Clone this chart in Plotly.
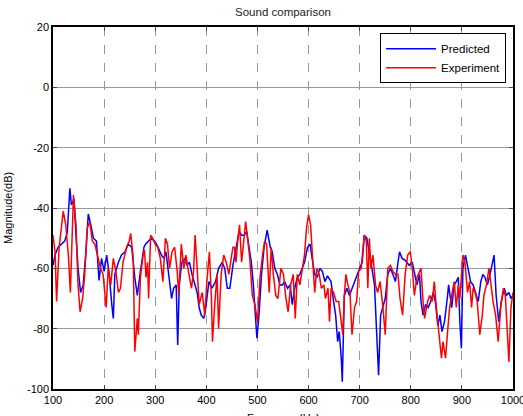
import plotly.graph_objects as go

freq_pred = [100, 104, 110, 117, 123, 128, 133, 136, 141, 145, 149, 154, 159, 164, 169, 174, 179, 185, 190, 195,
             200, 205, 210, 215, 218, 221, 228, 234, 241, 247, 254, 260, 265, 271, 278, 281, 286, 292, 299, 305,
             312, 317, 321, 326, 332, 336, 341, 344, 347, 352, 358, 362, 367, 372, 377, 382, 386, 390, 395, 399,
             405, 411, 418, 424, 431, 436, 441, 446, 452, 457, 464, 469, 474, 479, 483, 488, 492, 497, 499, 503,
             508, 513, 519, 525, 529, 534, 539, 544, 549, 553, 559, 564, 568, 573, 578, 583, 588, 592, 598, 603,
             607, 612, 617, 622, 627, 632, 637, 644, 649, 653, 657, 660, 664, 666, 670, 675, 680, 685, 690, 694,
             700, 705, 709, 714, 719, 724, 729, 732, 735, 737, 741, 745, 750, 755, 760, 765, 770, 775, 778, 783,
             788, 792, 797, 803, 807, 812, 817, 820, 824, 829, 834, 839, 844, 848, 853, 857, 861, 866, 872, 874,
             880, 885, 889, 893, 896, 899, 902, 907, 912, 917, 922, 926, 932, 937, 941, 945, 950, 955, 959, 963,
             967, 972, 977, 983, 987, 992, 996, 1000]
mag_pred = [-59, -55.6, -53, -52, -51, -48, -33.5, -39, -37, -49, -60, -68, -65.5, -55.6, -42, -45.6, -50, -51, -64, -56.7,
            -61, -55.6, -62, -72, -76.6, -62, -58, -55.6, -54.5, -52, -53, -63, -69, -61, -53, -52, -51, -50, -51, -52.8,
            -55.6, -56.7, -54.5, -61, -70, -66.6, -65.5, -85.4, -65.5, -58, -56.7, -59, -58, -62, -65.5, -68, -73, -75.5, -76.6, -73,
            -64.4, -66.6, -64.4, -60, -58, -60, -66.6, -66.6, -59, -54.5, -47.8, -49, -49, -47.8, -53, -58, -65.5, -76.6, -83.2, -75.5,
            -62, -53, -47.3, -53, -54.5, -60, -62, -65.5, -65.5, -64.4, -66.6, -65.5, -72, -66.6, -63, -62, -60, -58, -53, -52,
            -56.7, -62, -63, -60, -61, -64.4, -62.5, -64.4, -71, -75.5, -84.3, -81, -89.8, -97.6, -69, -66.6, -69, -66.6, -64.4, -63,
            -60, -58, -49, -50, -54.5, -60, -65.5, -75.5, -89.8, -95.4, -75.5, -73, -70, -62, -60, -62, -64.4, -58, -54.5, -56.7,
            -57.2, -58, -59, -58, -62, -65.5, -62, -71, -75.5, -72, -73, -71, -68, -71, -79, -75.5, -81, -77.7, -69, -65.5,
            -73, -65.5, -64.4, -63, -77.7, -86.5, -60, -55.6, -60, -64.4, -65.5, -68, -71, -64.4, -62, -63, -65.5, -62, -59, -55.6,
            -69, -77.7, -71, -66.6, -69, -68, -70, -69]

freq_exp = [100, 104, 107, 112, 117, 120, 125, 130, 134, 140, 145, 149, 153, 158, 162, 167, 172, 177, 182, 189,
            193, 198, 204, 208, 213, 218, 223, 228, 232, 237, 244, 249, 252, 257, 260, 265, 267, 271, 277, 279,
            282, 285, 287, 291, 295, 300, 305, 310, 315, 320, 324, 328, 333, 338, 343, 346, 351, 356, 360, 366,
            371, 375, 378, 382, 386, 392, 397, 401, 406, 410, 412, 416, 421, 424, 429, 434, 439, 444, 448, 452,
            455, 458, 462, 465, 469, 473, 477, 482, 485, 490, 495, 500, 505, 510, 514, 518, 523, 527, 531, 536,
            540, 546, 551, 555, 560, 565, 570, 574, 578, 583, 588, 592, 596, 600, 604, 608, 612, 616, 621, 625,
            630, 633, 638, 641, 644, 649, 654, 659, 664, 667, 670, 673, 677, 681, 685, 690, 694, 698, 703, 706,
            709, 713, 716, 719, 722, 726, 731, 735, 740, 745, 750, 755, 760, 765, 770, 775, 779, 784, 789, 794,
            799, 803, 807, 812, 817, 820, 824, 827, 833, 837, 842, 846, 850, 855, 860, 863, 868, 872, 876, 881,
            885, 889, 893, 896, 899, 902, 906, 911, 915, 919, 922, 926, 930, 935, 940, 943, 948, 953, 957, 961,
            966, 971, 976, 981, 985, 989, 992, 996, 1000]
mag_exp = [-49, -54.5, -71, -53, -45.6, -41, -45.6, -55.6, -68, -35.7, -45.6, -65.5, -74.4, -70, -62, -46.7, -44.5, -51, -52, -56.7,
           -60, -62, -73, -60, -65.5, -56.7, -61, -68, -66.6, -58, -53, -51, -48.4, -56.7, -87.6, -76.6, -82, -63, -54.5, -54,
           -63, -58, -70, -49, -50, -52, -53, -56.7, -64.4, -50, -52, -60, -54.5, -53, -61, -69, -52, -60, -55.6, -62,
           -66.6, -61, -49, -60, -72, -68, -75.5, -64.4, -54.5, -70, -84.3, -73, -62, -80, -62, -55.6, -58, -62, -58, -53,
           -53, -58, -50, -45.6, -58, -51, -44.5, -52, -56.7, -69, -72, -77.7, -63, -55.6, -51, -52, -68, -53, -62, -69,
           -70, -60, -62, -69, -74.4, -65.5, -62, -76.6, -62, -65.5, -60, -55.6, -46.7, -42.3, -45.6, -55.6, -68, -60, -62, -66.6,
           -65.5, -70, -66.6, -77.7, -66.6, -68, -71, -71, -77.7, -82, -69, -62, -65.5, -68, -82, -73, -71, -61, -60, -54.5,
           -49, -51, -66.6, -50, -60, -55.6, -65.5, -68, -64.4, -72, -82, -60, -59, -61, -62, -62, -70, -75.5, -62, -55.6,
           -54.5, -60, -69, -63, -61, -60, -71, -76.6, -71, -69, -71, -64.4, -73, -82, -89.8, -84.3, -89.8, -81, -73, -68,
           -64.4, -73, -65.5, -70, -62, -55.6, -58, -68, -64.4, -73, -66.6, -68, -71, -82, -75.5, -69, -65.5, -60, -65.5, -71,
           -75.5, -84.3, -73, -66.6, -69, -80, -91, -73, -68]

x_ticks = [100, 200, 300, 400, 500, 600, 700, 800, 900, 1000]
x_ticktext = ["100", "200", "300", "400", "500", "600", "700", "800", "900", "1000"]
y_ticks = [-100, -80, -60, -40, -20, 0, 20]
y_ticktext = ["-100", "-80", "-60", "-40", "-20", "0", "20"]

FONT = "Arial, Liberation Sans, sans-serif"

fig = go.Figure()
fig.add_trace(go.Scatter(x=freq_pred, y=mag_pred, mode="lines", name="Predicted",
                         line=dict(color="#0000FF", width=1.5)))
fig.add_trace(go.Scatter(x=freq_exp, y=mag_exp, mode="lines", name="Experiment",
                         line=dict(color="#FF0000", width=1.5)))

fig.update_layout(
    width=523, height=416,
    margin=dict(l=53, r=10, t=27, b=27, autoexpand=False),
    paper_bgcolor="white", plot_bgcolor="white",
    font=dict(family=FONT, size=11, color="black"),
    title=dict(text="Sound comparison", x=0.5, xref="paper", xanchor="center",
               y=1 - 12 / 416, yanchor="middle", font=dict(size=11.5, color="#222222")),
    showlegend=True,
    legend=dict(x=0.985, y=0.983, xanchor="right", yanchor="top",
                bordercolor="black", borderwidth=1, bgcolor="white",
                font=dict(size=11.5), tracegroupgap=0, itemwidth=50),
    xaxis=dict(range=[100, 1000], tickvals=x_ticks, ticktext=x_ticktext,
               ticks="inside", ticklen=4, ticklabeloverflow="allow", automargin=False,
               showline=True, linecolor="black", linewidth=1.5, mirror="ticks",
               showgrid=True, gridcolor="#999999", gridwidth=1, griddash="dash",
               zeroline=False, tickfont=dict(size=11)),
    yaxis=dict(range=[-100, 20], tickvals=y_ticks, ticktext=y_ticktext,
               ticks="inside", ticklen=4, ticklabeloverflow="allow", automargin=False,
               showline=True, linecolor="black", linewidth=1.5, mirror="ticks",
               showgrid=True, gridcolor="#999999", gridwidth=1,
               zeroline=False, tickfont=dict(size=11)),
    annotations=[
        dict(text="Magnitude(dB)", x=-0.098, y=0.5, xref="paper", yref="paper",
             textangle=-90, showarrow=False, font=dict(size=11),
             xanchor="center", yanchor="middle"),
        dict(text="Frequency(Hz)", x=0.5, y=-0.058, xref="paper", yref="paper",
             showarrow=False, font=dict(size=11), xanchor="center", yanchor="top"),
    ],
)

fig.write_html("out.html")
